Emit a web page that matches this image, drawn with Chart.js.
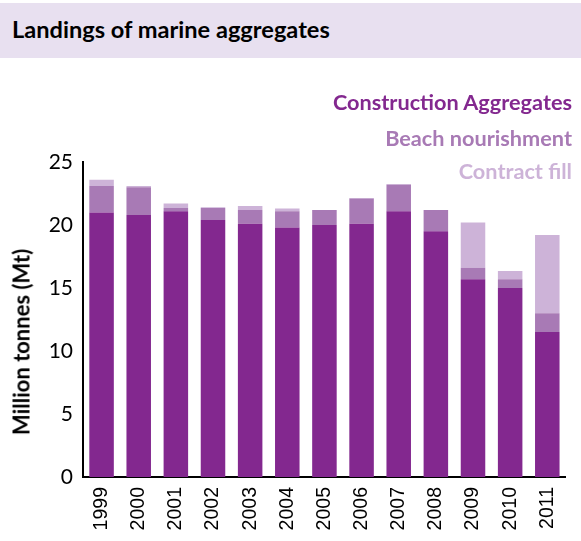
<!DOCTYPE html>
<html><head><meta charset="utf-8">
<script src="https://cdn.jsdelivr.net/npm/chart.js@4/dist/chart.umd.min.js"></script>
<style>
html,body{margin:0;padding:0;background:#fff;width:581px;height:541px;overflow:hidden;}
#band{position:absolute;left:0;top:3px;width:581px;height:55px;background:#e8e0f0;}
#title{position:absolute;left:12px;top:15px;font:bold 23.6px Lato,"Open Sans",sans-serif;color:#000;}
.leg{position:absolute;right:9px;font:bold 21.7px Lato,"Open Sans",sans-serif;white-space:nowrap;}
#ytitle{position:absolute;left:21px;top:342px;transform:translate(-50%,-50%) rotate(-90deg);font:bold 22px Lato,"Open Sans",sans-serif;color:#000;white-space:nowrap;}
#wrap{position:absolute;left:0;top:0;width:581px;height:541px;}
</style></head>
<body>
<div id="band"></div>
<div id="title">Landings of marine aggregates</div>
<div id="wrap"><canvas id="c" width="581" height="541"></canvas></div>
<div class="leg" style="top:89px;color:#83288f">Construction Aggregates</div>
<div class="leg" style="top:125px;color:#a87ab5">Beach nourishment</div>
<div class="leg" style="top:158px;color:#cdb3d8">Contract fill</div>
<div id="ytitle">Million tonnes (Mt)</div>
<script>
const years = ["1999","2000","2001","2002","2003","2004","2005","2006","2007","2008","2009","2010","2011"];
const construction = [21.0, 20.8, 21.1, 20.4, 20.1, 19.8, 20.0, 20.1, 21.1, 19.5, 15.7, 15.0, 11.5];
const beach = [2.1, 2.2, 0.25, 0.95, 1.1, 1.3, 1.2, 2.0, 2.1, 1.7, 0.9, 0.7, 1.5];
const contractFill = [0.5, 0.1, 0.35, 0.05, 0.3, 0.2, 0.0, 0.05, 0.05, 0.0, 3.6, 0.65, 6.2];
const yTicks = [0, 5, 10, 15, 20, 25];

new Chart(document.getElementById('c'), {
  type: 'bar',
  data: {
    labels: years,
    datasets: [
      {label:'Construction Aggregates', data: construction, backgroundColor:'#83288f'},
      {label:'Beach nourishment', data: beach, backgroundColor:'#a87ab5'},
      {label:'Contract fill', data: contractFill, backgroundColor:'#cdb3d8'}
    ]
  },
  options: {
    responsive:false, animation:false,
    layout:{padding:{left:0,right:8,top:162,bottom:0}},
    plugins:{legend:{display:false}, tooltip:{enabled:false}},
    datasets:{bar:{barPercentage:0.66, categoryPercentage:1.0}},
    scales:{
      x:{stacked:true,
         grid:{display:false, drawTicks:false},
         border:{display:true,color:'#000',width:2},
         ticks:{color:'#000',padding:10,minRotation:90,maxRotation:90,font:{family:'"Liberation Sans", Arial, sans-serif',size:19.5}},
         afterFit:(s)=>{s.height=64;}
      },
      y:{stacked:true,min:0,max:25,
         grid:{display:false, drawTicks:false},
         border:{display:true,color:'#000',width:2},
         afterBuildTicks:(s)=>{s.ticks = yTicks.map(v=>({value:v}));},
         ticks:{color:'#000',padding:10,font:{family:'Lato, "Open Sans", sans-serif',size:21}},
         afterFit:(s)=>{s.width=83;}
      }
    }
  }
});
</script>
</body></html>
